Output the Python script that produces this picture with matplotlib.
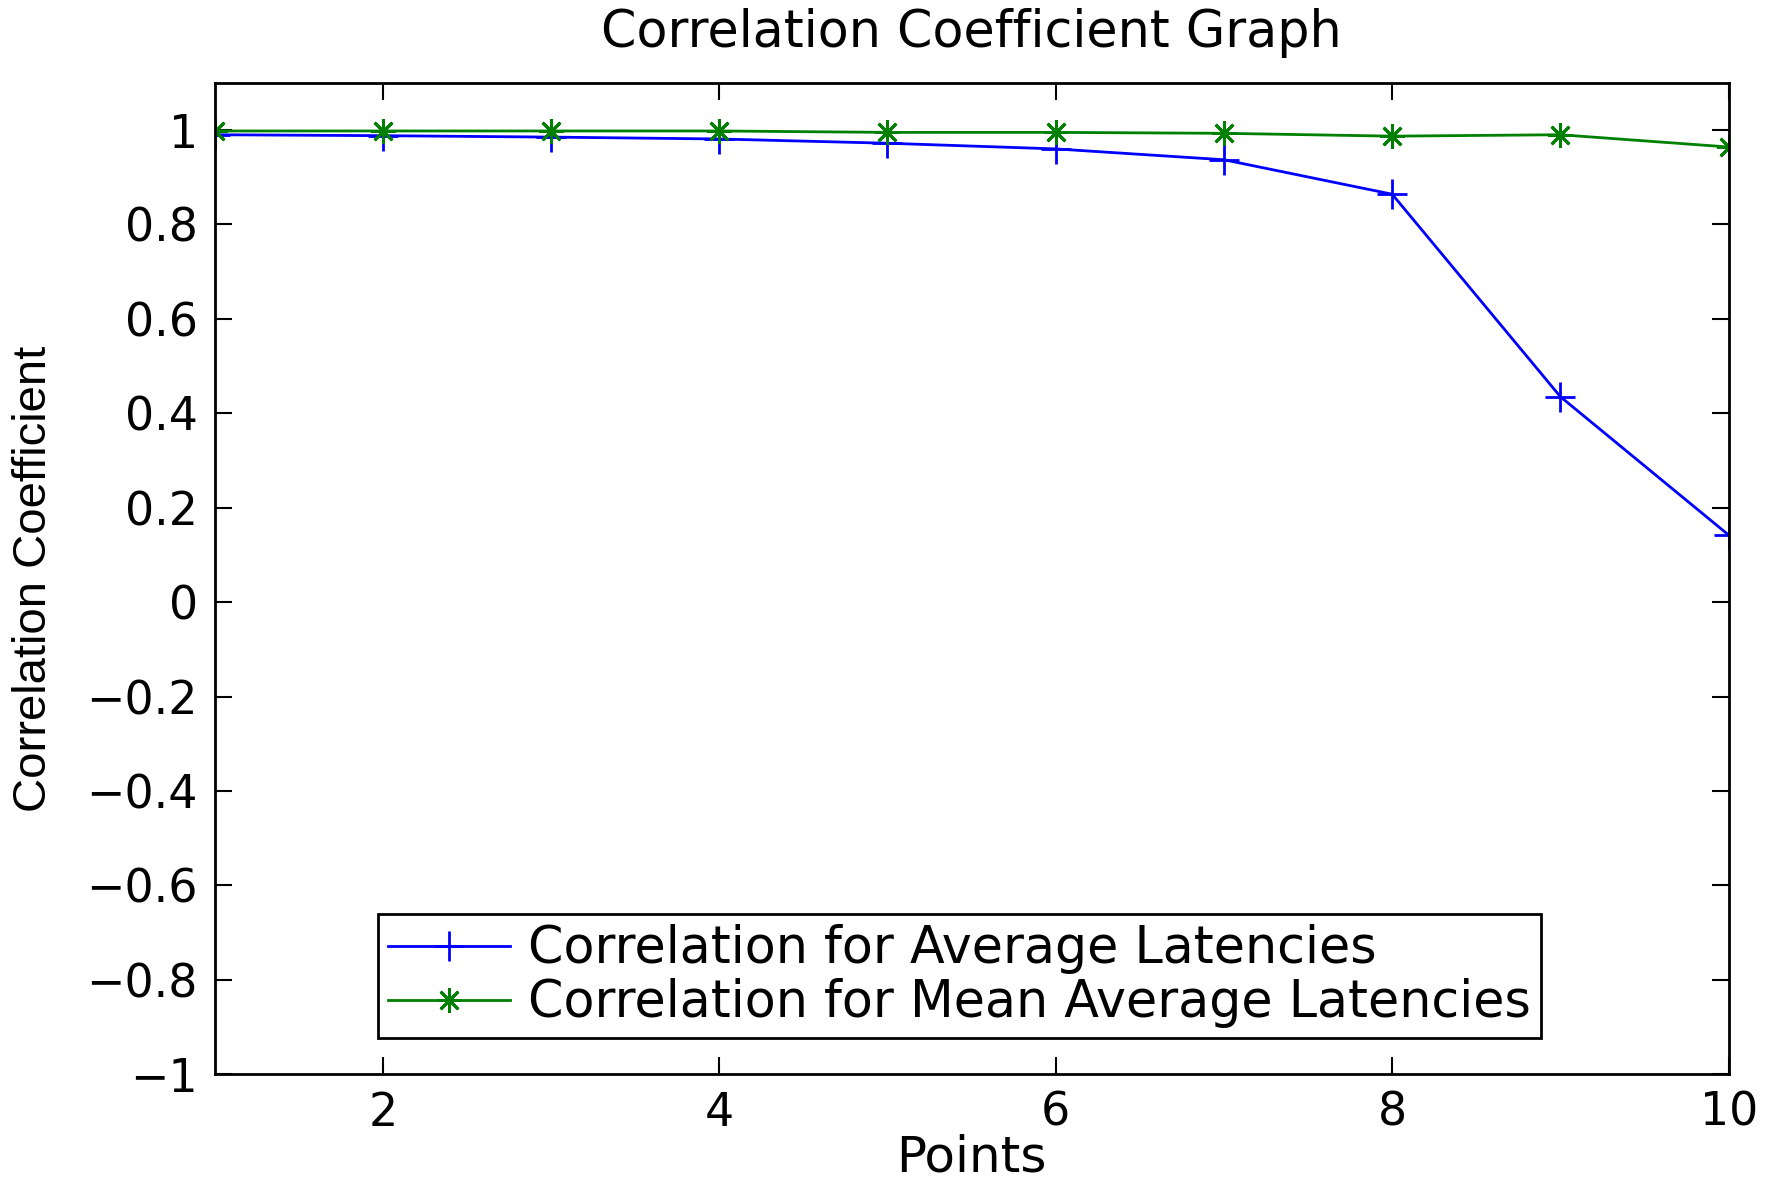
import matplotlib
matplotlib.use('Agg')
import matplotlib.pyplot as plt

plt.rcParams['font.family'] = ['DejaVu Sans']

points = [1, 2, 3, 4, 5, 6, 7, 8, 9, 10]
avg_corr = [0.990, 0.988, 0.985, 0.981, 0.972, 0.960, 0.937, 0.864, 0.435, 0.142]
mean_avg_corr = [0.998, 0.998, 0.998, 0.998, 0.995, 0.995, 0.993, 0.987, 0.990, 0.964]

xticks = [2, 4, 6, 8, 10]
yticks = [-1, -0.8, -0.6, -0.4, -0.2, 0, 0.2, 0.4, 0.6, 0.8, 1]
ytick_labels = ['\u22121', '\u22120.8', '\u22120.6', '\u22120.4', '\u22120.2', '0',
                '0.2', '0.4', '0.6', '0.8', '1']

fig = plt.figure(figsize=(17.73, 11.83), dpi=100)
ax = fig.add_axes([0.121, 0.092, 0.854, 0.838])

ax.plot(points, avg_corr, color='#0000ff', marker='+', markersize=22,
        markeredgewidth=2, linewidth=2, label='Correlation for Average Latencies')
ax.plot(points, mean_avg_corr, color='#008000', marker=(8, 2, 0), markersize=18,
        markeredgewidth=2, linewidth=2, label='Correlation for Mean Average Latencies')

ax.set_xlim(1, 10)
ax.set_ylim(-1, 1.1)
ax.set_xticks(xticks)
ax.set_yticks(yticks)
ax.set_yticklabels(ytick_labels)
ax.tick_params(direction='in', length=12, width=1.5, labelsize=33,
               top=True, right=True, pad=12)
for s in ax.spines.values():
    s.set_linewidth(2)

ax.set_title('Correlation Coefficient Graph', fontsize=36.5, pad=26)
ax.set_xlabel('Points', fontsize=36, labelpad=-2)
ax.set_ylabel('Correlation Coefficient', fontsize=34, labelpad=22,
              family='Liberation Sans')

leg = ax.legend(loc='lower left', bbox_to_anchor=(0.108, 0.036), fontsize=36.5,
                fancybox=False, framealpha=1, edgecolor='black',
                handlelength=2.4, borderpad=0.2, labelspacing=0.08,
                handletextpad=0.35, borderaxespad=0)
leg.get_frame().set_linewidth(2)

fig.savefig('out.png', dpi=100)
